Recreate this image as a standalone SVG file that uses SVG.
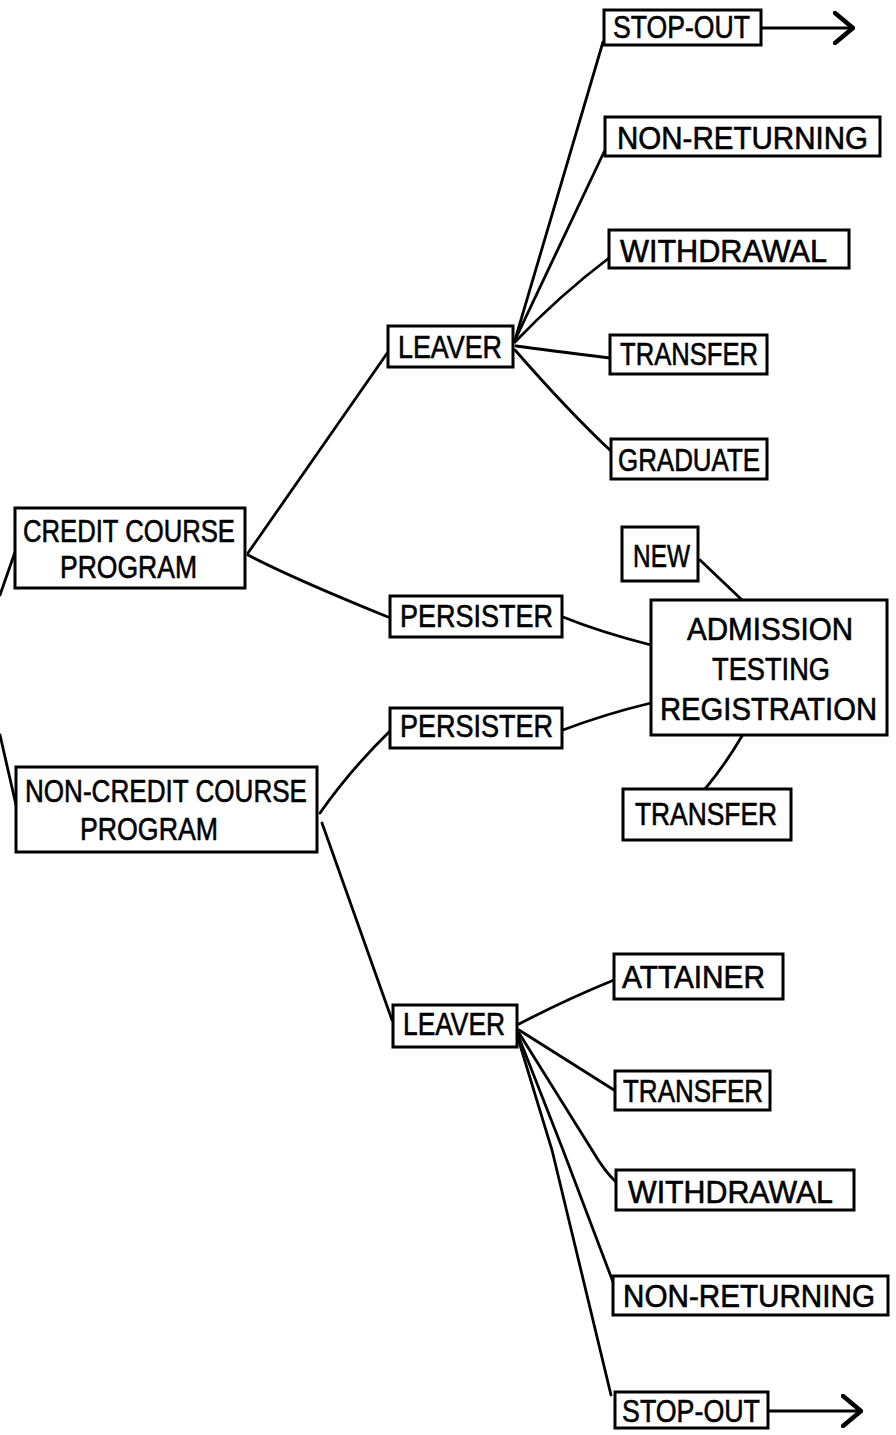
<svg xmlns="http://www.w3.org/2000/svg" width="896" height="1435" viewBox="0 0 896 1435">
<defs>
<style>
.box{fill:#fff;stroke:#000;stroke-width:3}
.t{font-family:"Liberation Sans",Arial,sans-serif;font-size:31px;fill:#000;stroke:#000;stroke-width:0.6}
.c{fill:none;stroke:#000;stroke-width:2.8;stroke-linecap:round}
</style>
<marker id="chev" viewBox="0 0 22 34" refX="20" refY="17" markerWidth="22" markerHeight="34" markerUnits="userSpaceOnUse" orient="auto">
<path d="M2,2 L20,17 L2,32" fill="none" stroke="#000" stroke-width="4.5" stroke-linecap="round" stroke-linejoin="round"/>
</marker>
</defs>
<rect width="896" height="1435" fill="#fff"/>
<g id="connectors">
<path class="c" d="M15,552 L0,595"/>
<path class="c" d="M0,735 L16,805"/>
<path class="c" d="M248,553 L388,352"/>
<path class="c" d="M248,555 Q292,578 388,617"/>
<path class="c" d="M515,340 L603,42"/>
<path class="c" d="M515,340 L604,152"/>
<path class="c" d="M515,342 Q560,295 609,258"/>
<path class="c" d="M516,346 Q545,350 610,358"/>
<path class="c" d="M515,350 Q570,413 612,452"/>
<path class="c" d="M563,617 Q600,632 651,645"/>
<path class="c" d="M563,730 Q605,714 651,703"/>
<path class="c" d="M700,560 L742,600"/>
<path class="c" d="M742,736 Q725,765 705,789"/>
<path class="c" d="M320,813 Q350,770 391,730"/>
<path class="c" d="M322,823 L392,1020"/>
<path class="c" d="M519,1024 Q565,1000 614,980"/>
<path class="c" d="M519,1030 L614,1090"/>
<path class="c" d="M519,1033 Q570,1115 592,1150 Q605,1172 616,1182"/>
<path class="c" d="M518,1035 L563,1150 L613,1282"/>
<path class="c" d="M517,1035 L552,1150 L611,1395"/>
<path class="c" d="M761,28 L853,28" marker-end="url(#chev)"/>
<path class="c" d="M768,1411 L861,1411" marker-end="url(#chev)"/>
</g>
<g id="stopout-top"><rect class="box" x="604" y="10" width="157" height="35"/><text class="t" x="613" y="38" textLength="137" lengthAdjust="spacingAndGlyphs">STOP-OUT</text></g>
<g id="nonreturning-top"><rect class="box" x="605" y="117" width="275" height="39"/><text class="t" x="617" y="149" textLength="251" lengthAdjust="spacingAndGlyphs">NON-RETURNING</text></g>
<g id="withdrawal-top"><rect class="box" x="609" y="230" width="240" height="38"/><text class="t" x="620" y="262" textLength="207" lengthAdjust="spacingAndGlyphs">WITHDRAWAL</text></g>
<g id="leaver-top"><rect class="box" x="388" y="326" width="125" height="41"/><text class="t" x="398" y="358" textLength="104" lengthAdjust="spacingAndGlyphs">LEAVER</text></g>
<g id="transfer-top"><rect class="box" x="610" y="335" width="157" height="39"/><text class="t" x="620" y="365" textLength="138" lengthAdjust="spacingAndGlyphs">TRANSFER</text></g>
<g id="graduate"><rect class="box" x="611" y="439" width="156" height="40"/><text class="t" x="618" y="471" textLength="142" lengthAdjust="spacingAndGlyphs">GRADUATE</text></g>
<g id="credit"><rect class="box" x="15" y="508" width="230" height="80"/><text class="t" x="23" y="542" textLength="212" lengthAdjust="spacingAndGlyphs">CREDIT COURSE</text><text class="t" x="60" y="578" textLength="137" lengthAdjust="spacingAndGlyphs">PROGRAM</text></g>
<g id="persister-top"><rect class="box" x="390" y="596" width="172" height="41"/><text class="t" x="400" y="627" textLength="153" lengthAdjust="spacingAndGlyphs">PERSISTER</text></g>
<g id="persister-bottom"><rect class="box" x="390" y="708" width="172" height="40"/><text class="t" x="400" y="737" textLength="153" lengthAdjust="spacingAndGlyphs">PERSISTER</text></g>
<g id="noncredit"><rect class="box" x="16" y="767" width="301" height="85"/><text class="t" x="25" y="802" textLength="282" lengthAdjust="spacingAndGlyphs">NON-CREDIT COURSE</text><text class="t" x="80" y="840" textLength="138" lengthAdjust="spacingAndGlyphs">PROGRAM</text></g>
<g id="new"><rect class="box" x="622" y="527" width="76" height="54"/><text class="t" x="633" y="567" textLength="57" lengthAdjust="spacingAndGlyphs">NEW</text></g>
<g id="admission"><rect class="box" x="651" y="600" width="236" height="135"/><text class="t" x="687" y="640" textLength="166" lengthAdjust="spacingAndGlyphs">ADMISSION</text><text class="t" x="712" y="680" textLength="118" lengthAdjust="spacingAndGlyphs">TESTING</text><text class="t" x="660" y="720" textLength="217" lengthAdjust="spacingAndGlyphs">REGISTRATION</text></g>
<g id="transfer-mid"><rect class="box" x="623" y="789" width="168" height="51"/><text class="t" x="635" y="825" textLength="142" lengthAdjust="spacingAndGlyphs">TRANSFER</text></g>
<g id="leaver-bottom"><rect class="box" x="393" y="1005" width="124" height="42"/><text class="t" x="403" y="1035" textLength="102" lengthAdjust="spacingAndGlyphs">LEAVER</text></g>
<g id="attainer"><rect class="box" x="614" y="954" width="169" height="45"/><text class="t" x="622" y="988" textLength="143" lengthAdjust="spacingAndGlyphs">ATTAINER</text></g>
<g id="transfer-bottom"><rect class="box" x="615" y="1071" width="155" height="39"/><text class="t" x="623" y="1102" textLength="140" lengthAdjust="spacingAndGlyphs">TRANSFER</text></g>
<g id="withdrawal-bottom"><rect class="box" x="616" y="1170" width="238" height="40"/><text class="t" x="628" y="1203" textLength="205" lengthAdjust="spacingAndGlyphs">WITHDRAWAL</text></g>
<g id="nonreturning-bottom"><rect class="box" x="613" y="1276" width="275" height="39"/><text class="t" x="623" y="1307" textLength="252" lengthAdjust="spacingAndGlyphs">NON-RETURNING</text></g>
<g id="stopout-bottom"><rect class="box" x="615" y="1392" width="153" height="36"/><text class="t" x="622" y="1422" textLength="138" lengthAdjust="spacingAndGlyphs">STOP-OUT</text></g>
</svg>
